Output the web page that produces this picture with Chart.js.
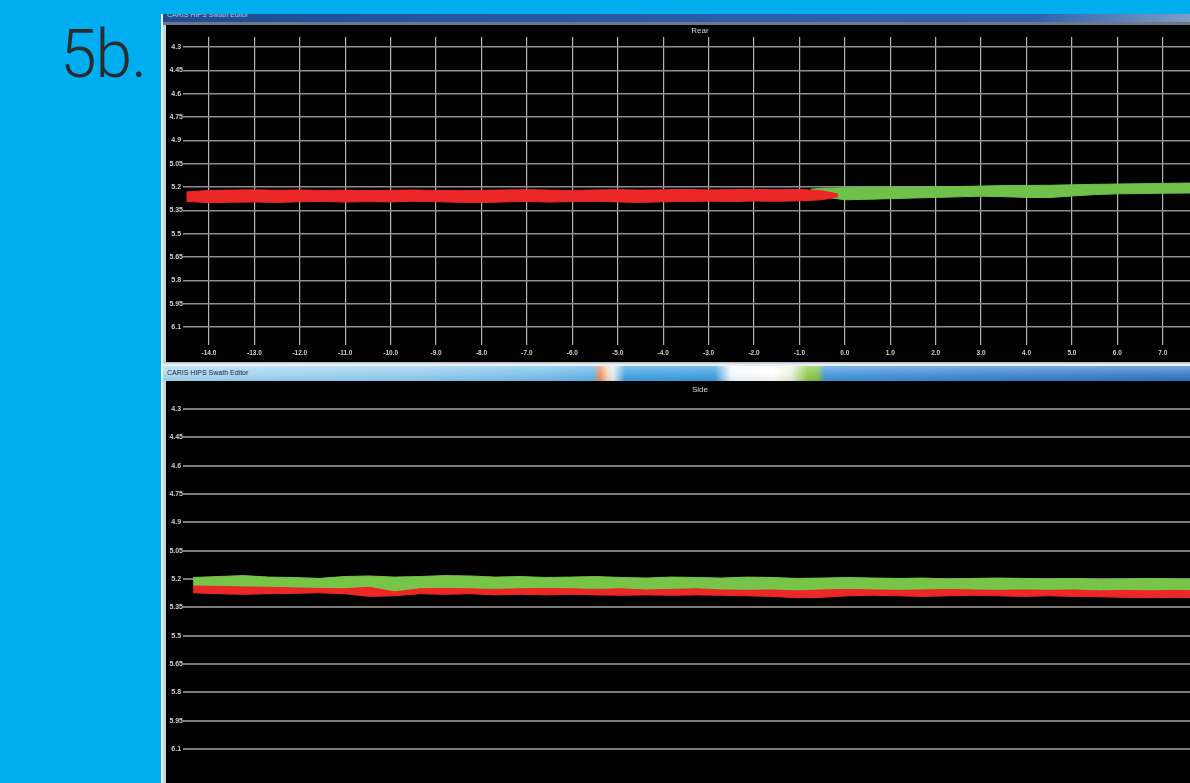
<!DOCTYPE html>
<html>
<head>
<meta charset="utf-8">
<script src="https://cdn.jsdelivr.net/npm/chart.js@4/dist/chart.umd.min.js"></script>
<style>
  html, body { margin: 0; padding: 0; }
  body {
    width: 1190px; height: 783px; overflow: hidden; position: relative;
    background: #00adef; font-family: "Liberation Sans", Arial, sans-serif;
  }
  #figLabel {
    position: absolute; left: 60px; top: 22px;
    font-family: Roboto, "Noto Sans", sans-serif; font-weight: 300;
    font-size: 66px; line-height: 66px; color: #2b2b2b; letter-spacing: -1px;
  }
  #frame {
    position: absolute; left: 161px; top: 14px; width: 1029px; height: 769px;
    background: #c9d3dc; border-left: 2px solid #e6f2f8; box-sizing: border-box;
  }
  .bar { position: absolute; left: 163px; width: 1027px; overflow: hidden; }
  #barTop {
    top: 14px; height: 8px;
    background: linear-gradient(to right, #1f4c93 0%, #2a5ea8 55%, #2f63ad 85%, #7f9cc4 100%);
  }
  #barTop span {
    position: absolute; left: 4px; top: -3px; font-size: 7px; color: #b9c6dc; white-space: nowrap;
  }
  #stripTop { position: absolute; left: 163px; top: 22px; width: 1027px; height: 3px; background: #6f7888; }
  #sep {
    position: absolute; left: 163px; top: 362px; width: 1027px; height: 4px;
    background: linear-gradient(to bottom, #aab3bc 0%, #dfe7ee 50%, #f4f8fb 100%);
  }
  #barSide {
    top: 366px; height: 15px;
    background:
      linear-gradient(to bottom, rgba(255,255,255,0.35) 0%, rgba(255,255,255,0.12) 50%, rgba(0,0,0,0.06) 100%),
      linear-gradient(to right, #a6d7f2 0px, #8fcbef 250px, #74bdea 380px, #5fb2e6 430px,
        #ef8a5c 437px, #f3d2b8 444px, #e4eef5 450px, #3d9fe0 462px, #3a9be0 552px,
        #f4f8fb 568px, #ffffff 610px, #e8f2dc 628px, #8cc63f 645px, #7fbf4a 655px,
        #3f92dc 662px, #357fcf 850px, #2f74c6 1027px);
  }
  #barSide span {
    position: absolute; left: 4px; top: 3px; font-size: 7px; color: #1c2c3c; white-space: nowrap;
  }
  canvas { position: absolute; background: #020202; }
  #rearWrap { position: absolute; left: 166px; top: 25px; width: 1024px; height: 337px; }
  #sideWrap { position: absolute; left: 166px; top: 381px; width: 1024px; height: 402px; }
  .viewTitle {
    position: absolute; width: 80px; margin-left: -40px; text-align: center;
    font-size: 8px; color: #d8d8d8; white-space: nowrap;
  }
</style>
</head>
<body>
<div id="figLabel">5b.</div>
<div id="frame"></div>
<div class="bar" id="barTop"><span>CARIS HIPS Swath Editor</span></div>
<div id="stripTop"></div>
<div id="rearWrap"><canvas id="rearChart" width="1024" height="337"></canvas></div>
<div id="sep"></div>
<div class="bar" id="barSide"><span>CARIS HIPS Swath Editor</span></div>
<div id="sideWrap"><canvas id="sideChart" width="1024" height="402"></canvas></div>
<div class="viewTitle" style="left:700px; top:26px;">Rear</div>
<div class="viewTitle" style="left:700px; top:385px;">Side</div>

<script>
// Depth axis (m), shared by both views
const depthTicks = [4.3, 4.45, 4.6, 4.75, 4.9, 5.05, 5.2, 5.35, 5.5, 5.65, 5.8, 5.95, 6.1];
const depthTickLabels = ['4.3', '4.45', '4.6', '4.75', '4.9', '5.05', '5.2', '5.35', '5.5', '5.65', '5.8', '5.95', '6.1'];

// Across-track axis (m) of the rear view
const acrossTicks = [-14, -13, -12, -11, -10, -9, -8, -7, -6, -5, -4, -3, -2, -1, 0, 1, 2, 3, 4, 5, 6, 7];
const acrossTickLabels = ['-14.0', '-13.0', '-12.0', '-11.0', '-10.0', '-9.0', '-8.0', '-7.0', '-6.0', '-5.0', '-4.0',
  '-3.0', '-2.0', '-1.0', '0.0', '1.0', '2.0', '3.0', '4.0', '5.0', '6.0', '7.0'];

// Rear view: port swath (red) soundings envelope
const rearRedX = [-14.5, -14.0, -13.5, -13.0, -12.5, -12.0, -11.5, -11.0, -10.5, -10.0, -9.5, -9.0, -8.5, -8.0,
  -7.5, -7.0, -6.5, -6.0, -5.5, -5.0, -4.5, -4.0, -3.5, -3.0, -2.5, -2.0, -1.5, -1.0, -0.5, -0.15];
const rearRedTop = [5.232, 5.222, 5.220, 5.218, 5.221, 5.219, 5.222, 5.220, 5.223, 5.221, 5.219, 5.222, 5.224, 5.221,
  5.219, 5.217, 5.220, 5.222, 5.219, 5.217, 5.220, 5.218, 5.216, 5.219, 5.217, 5.215, 5.218, 5.216, 5.224, 5.245];
const rearRedBottom = [5.292, 5.301, 5.298, 5.296, 5.299, 5.295, 5.293, 5.297, 5.294, 5.296, 5.292, 5.295, 5.298, 5.300,
  5.296, 5.293, 5.297, 5.294, 5.292, 5.296, 5.299, 5.295, 5.293, 5.291, 5.294, 5.290, 5.292, 5.289, 5.282, 5.262];

// Rear view: starboard swath (green) soundings envelope
const rearGreenX = [-0.75, -0.5, 0.0, 0.5, 1.0, 1.5, 2.0, 2.5, 3.0, 3.5, 4.0, 4.5, 5.0, 5.5, 6.0, 6.5, 7.0, 7.5, 8.0];
const rearGreenTop = [5.214, 5.208, 5.205, 5.202, 5.200, 5.200, 5.199, 5.197, 5.194, 5.191, 5.190, 5.189, 5.186,
  5.183, 5.181, 5.179, 5.177, 5.175, 5.174];
const rearGreenBottom = [5.240, 5.262, 5.282, 5.279, 5.275, 5.271, 5.267, 5.263, 5.259, 5.262, 5.267, 5.268, 5.258,
  5.249, 5.244, 5.242, 5.240, 5.239, 5.238];

// Side view: along-track position (m) and the two swaths' envelopes
const sideX = [1, 3.5, 6, 8.5, 11, 13.5, 16, 18.5, 21, 23.5, 26, 28.5, 31, 33.5, 36, 38.5, 41, 43.5, 46, 48.5,
  51, 53.5, 56, 58.5, 61, 63.5, 66, 68.5, 71, 73.5, 76, 78.5, 81, 83.5, 86, 88.5, 91, 93.5, 96, 98.5, 101];
const sideGreenTop = [5.192, 5.187, 5.182, 5.190, 5.192, 5.197, 5.187, 5.184, 5.190, 5.187, 5.182, 5.184, 5.190,
  5.187, 5.192, 5.190, 5.187, 5.192, 5.195, 5.190, 5.192, 5.195, 5.190, 5.192, 5.197, 5.195, 5.192, 5.195, 5.197,
  5.195, 5.200, 5.197, 5.195, 5.197, 5.200, 5.197, 5.203, 5.200, 5.197, 5.200, 5.203];
const sideGreenBottom = [5.237, 5.239, 5.242, 5.244, 5.247, 5.250, 5.252, 5.244, 5.268, 5.252, 5.250, 5.252, 5.255,
  5.252, 5.250, 5.252, 5.255, 5.252, 5.258, 5.255, 5.252, 5.258, 5.260, 5.258, 5.263, 5.258, 5.255, 5.258, 5.260,
  5.258, 5.255, 5.258, 5.260, 5.258, 5.260, 5.258, 5.263, 5.260, 5.263, 5.260, 5.263];
const sideRedBottom = [5.273, 5.278, 5.281, 5.278, 5.276, 5.273, 5.278, 5.292, 5.289, 5.278, 5.281, 5.278, 5.284,
  5.281, 5.284, 5.281, 5.284, 5.286, 5.284, 5.286, 5.284, 5.286, 5.289, 5.292, 5.299, 5.297, 5.289, 5.286, 5.289,
  5.292, 5.289, 5.286, 5.289, 5.292, 5.289, 5.292, 5.294, 5.297, 5.299, 5.297, 5.299];

const RED = '#ec2727';
const GREEN = '#6fc14a';
const SIDE_GREEN = '#76c448';

Chart.defaults.font.family = '"Liberation Sans", Arial, sans-serif';
Chart.defaults.animation = false;

const pts = (xs, ys) => xs.map((x, i) => ({ x, y: ys[i] }));
const edge = (xs, ys, color, fill) => ({
  data: pts(xs, ys), borderColor: color, backgroundColor: color, borderWidth: 1,
  pointRadius: 0, tension: 0, fill: fill
});

function depthAxis(min, max, gridColor, gridWidth) {
  return {
    type: 'linear', position: 'left', reverse: true, min: min, max: max,
    afterBuildTicks: (scale) => { scale.ticks = depthTicks.map(v => ({ value: v })); },
    afterFit: (scale) => { scale.width = 17; },
    border: { display: false },
    grid: { color: gridColor, lineWidth: gridWidth, drawTicks: false },
    ticks: {
      color: '#cfcfcf', font: { size: 7, weight: 'bold' }, padding: 0, crossAlign: 'center',
      callback: (value, index) => depthTickLabels[index]
    }
  };
}

const commonPlugins = { legend: { display: false }, tooltip: { enabled: false }, title: { display: false } };

new Chart(document.getElementById('rearChart'), {
  type: 'line',
  data: {
    datasets: [
      edge(rearRedX, rearRedBottom, RED, false),
      edge(rearRedX, rearRedTop, RED, '-1'),
      edge(rearGreenX, rearGreenBottom, GREEN, false),
      edge(rearGreenX, rearGreenTop, GREEN, '-1')
    ]
  },
  options: {
    responsive: false,
    layout: { padding: { top: 12, left: 0, right: 0, bottom: 0 } },
    plugins: commonPlugins,
    scales: {
      x: {
        type: 'linear', min: -14.572, max: 7.6,
        afterBuildTicks: (scale) => { scale.ticks = acrossTicks.map(v => ({ value: v })); },
        afterFit: (scale) => { scale.height = 17; },
        border: { display: false },
        grid: { color: '#b2b2b2', lineWidth: 1.2, drawTicks: false },
        ticks: {
          color: '#cfcfcf', font: { size: 6.5, weight: 'bold' }, padding: 4, autoSkip: false, maxRotation: 0,
          callback: (value, index) => acrossTickLabels[index]
        }
      },
      y: depthAxis(4.2357, 6.2157, '#8e8e8e', 1.5)
    }
  }
});

new Chart(document.getElementById('sideChart'), {
  type: 'line',
  data: {
    datasets: [
      edge(sideX, sideRedBottom, RED, false),
      edge(sideX, sideGreenBottom, RED, '-1'),
      edge(sideX, sideGreenBottom, SIDE_GREEN, false),
      edge(sideX, sideGreenTop, SIDE_GREEN, '-1')
    ]
  },
  options: {
    responsive: false,
    layout: { padding: { top: 17, left: 0, right: 0, bottom: 0 } },
    plugins: commonPlugins,
    scales: {
      x: { type: 'linear', min: 0, max: 100, display: false },
      y: depthAxis(4.2424, 6.257, '#7c7c7c', 2)
    }
  }
});
</script>
</body>
</html>
